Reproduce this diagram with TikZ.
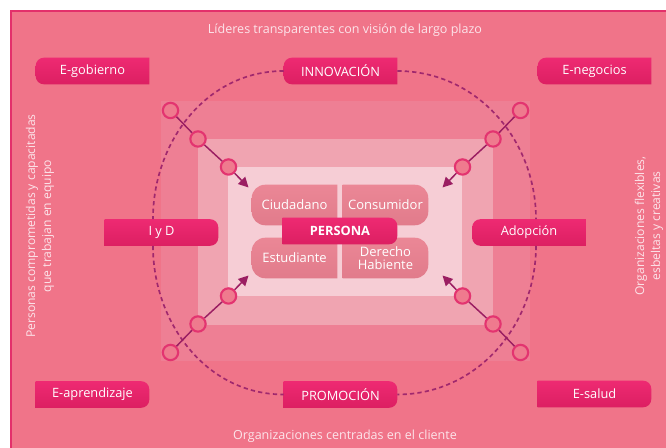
\documentclass[tikz,border=0pt]{standalone}
\usepackage{fontspec}
\setmainfont{Open Sans}
\usetikzlibrary{arrows.meta,backgrounds}

\definecolor{bgpink}{HTML}{F07489}
\definecolor{framec}{HTML}{E3306B}
\definecolor{sqa}{HTML}{EE7F94}
\definecolor{sqb}{HTML}{F0A4B1}
\definecolor{sqc}{HTML}{F6CDD5}
\definecolor{tagtop}{HTML}{EE2A72}
\definecolor{tagbot}{HTML}{DC1F62}
\definecolor{celltop}{HTML}{EB8796}
\definecolor{cellbot}{HTML}{E17B8B}
\definecolor{ringline}{HTML}{E33470}
\definecolor{ringfill}{HTML}{EF7A8E}
\definecolor{arrowc}{HTML}{9B1E62}
\definecolor{orbitc}{HTML}{A0286E}
\definecolor{lbltext}{HTML}{FCE4EA}

% pill backgrounds: #1 style, #2 node, #3 corner radius
\newcommand\pillL[3]{\path[#1] (#2.north east) -- ([xshift=#3]#2.north west)
  arc[start angle=90,end angle=180,radius=#3] -- ([yshift=#3]#2.south west)
  arc[start angle=180,end angle=270,radius=#3] -- (#2.south east) -- cycle;}
\newcommand\pillR[3]{\path[#1] (#2.north west) -- ([xshift=-#3]#2.north east)
  arc[start angle=90,end angle=0,radius=#3] -- ([yshift=#3]#2.south east)
  arc[start angle=0,end angle=-90,radius=#3] -- (#2.south west) -- cycle;}

\begin{document}
\begin{tikzpicture}[x=0.75pt,y=0.75pt,
  tagshade/.style={top color=tagtop,bottom color=tagbot},
  cellshade/.style={top color=celltop,bottom color=cellbot},
  tagbox/.style={minimum width=84.75pt,minimum height=19.5pt,inner sep=0pt,
    text=white,font=\fontsize{9.6}{10}\selectfont},
  cellbox/.style={minimum width=63.75pt,minimum height=30pt,inner sep=0pt,
    text=white,align=center,font=\fontsize{9.75}{10}\selectfont},
  ring/.style={circle,draw=ringline,line width=1.6pt,fill=ringfill,minimum size=11.5pt,inner sep=0pt},
  pointer/.style={draw=arrowc,line width=1.1pt},
  orbit/.style={draw=orbitc,line width=1.25pt,dash pattern=on 3.2pt off 2.4pt},
  lbl/.style={text=lbltext,font=\fontsize{9.4}{12}\selectfont,align=center},
  sidelbl/.style={lbl,rotate=90,font=\fontsize{9.1}{12}\selectfont}]

  \useasboundingbox (0,0) rectangle (666,448);
  \clip (0,0) rectangle (666,448);

  % frame and nested squares
  \begin{scope}[on background layer]
    \fill[white] (0,0) rectangle (666,448);
    \draw[fill=bgpink,draw=framec,line width=1.5pt] (11,-10) rectangle (680,437);
    \fill[sqa] (161,87) rectangle (530,347);
    \fill[sqb] (198,123) rectangle (493,309);
    \fill[sqc] (228,152) rectangle (462,281);
  \end{scope}

  % side texts
  \node[lbl] (lead) at (345,418) {Líderes transparentes con visión de largo plazo};
  \node[lbl] (client) at (345,12) {Organizaciones centradas en el cliente};
  \node[sidelbl] (staff) at (40,222) {Personas comprometidas y capacitadas\\que trabajan en equipo};
  \node[sidelbl] (orgs) at (649,222) {Organizaciones flexibles,\\esbeltas y creativas};

  % tags
  \node[tagbox] (egob) at (92.5,377) {E-gobierno};
  \node[tagbox] (innov) at (340.5,377) {INNOVACIÓN};
  \node[tagbox] (eneg) at (594.5,377) {E-negocios};
  \node[tagbox] (iyd) at (161.5,215.5) {I y D};
  \node[tagbox] (adop) at (529,215.5) {Adopción};
  \node[tagbox] (eapr) at (92.5,53.5) {E-aprendizaje};
  \node[tagbox] (promo) at (340.5,53.5) {PROMOCIÓN};
  \node[tagbox] (esal) at (594.5,54) {E-salud};

  % centre
  \node[cellbox] (ciud) at (294.5,243) {Ciudadano};
  \node[cellbox] (cons) at (385.5,243) {Consumidor};
  \node[cellbox] (estu) at (294.5,190) {Estudiante};
  \node[cellbox] (dere) at (385.5,190) {Derecho\\Habiente};
  \node[tagbox,minimum width=85.5pt,font=\fontsize{9.6}{10}\selectfont\bfseries] (persona) at (340,217) {PERSONA};

  \begin{scope}[on background layer]
    \foreach \n in {egob,innov,eneg,adop} {\pillL{tagshade}{\n}{6pt}}
    \foreach \n in {iyd,eapr,promo,esal} {\pillR{tagshade}{\n}{6pt}}
    \foreach \n in {ciud,estu} {\pillL{cellshade}{\n}{10pt}}
    \foreach \n in {cons,dere} {\pillR{cellshade}{\n}{10pt}}
    \pillR{tagshade}{persona}{6pt}
  \end{scope}

  % dotted orbit
  \coordinate (iydn) at ([xshift=-6.4pt]iyd.north);
  \coordinate (iyds) at ([xshift=-6.4pt]iyd.south);
  \coordinate (adopn) at ([xshift=5.25pt]adop.north);
  \coordinate (adops) at ([xshift=5.25pt]adop.south);
  \draw[orbit] (innov.west) to[out=180,in=90] (iydn);
  \draw[orbit] (innov.east) to[out=0,in=90] (adopn);
  \draw[orbit] (adops) to[out=-90,in=0] (promo.east);
  \draw[orbit] (iyds) to[out=-90,in=180] (promo.west);

  % rings and arrows
  \foreach \sx/\sy/\k in {-1/1/a,1/1/b,-1/-1/c,1/-1/d}{
    \node[ring] (\k1) at (345.5+175*\sx,216.5+121*\sy) {};
    \node[ring] (\k2) at (345.5+147.5*\sx,216.5+92.5*\sy) {};
    \node[ring] (\k3) at (345.5+117*\sx,216.5+64.5*\sy) {};
    \coordinate (\k4) at (345.5+97*\sx,216.5+44*\sy);
    \draw[pointer] (\k1) -- (\k2) (\k2) -- (\k3);
    \draw[pointer,-{Triangle[length=7.5pt,width=7.5pt]}] (\k3) -- (\k4);
  }
\end{tikzpicture}
\end{document}
